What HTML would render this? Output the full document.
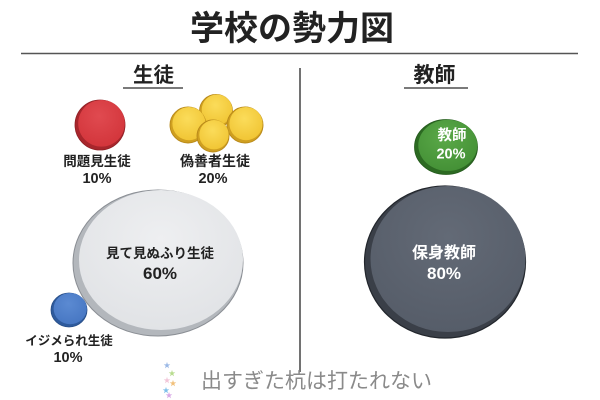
<!DOCTYPE html>
<html lang="ja">
<head>
<meta charset="utf-8">
<style>
  html,body{margin:0;padding:0;background:#ffffff;}
  body{width:600px;height:400px;overflow:hidden;}
  svg{display:block;}
  text{font-family:"Liberation Sans","Noto Sans CJK JP",sans-serif;}
  .b{font-weight:700;}
</style>
</head>
<body>
<svg width="600" height="400" viewBox="0 0 600 400" xmlns="http://www.w3.org/2000/svg">
  <defs>
    <radialGradient id="gRed" cx="45%" cy="35%" r="70%">
      <stop offset="0" stop-color="#e04a50"/>
      <stop offset="1" stop-color="#d2343a"/>
    </radialGradient>
    <radialGradient id="gYel" cx="45%" cy="35%" r="70%">
      <stop offset="0" stop-color="#fbdc5a"/>
      <stop offset="1" stop-color="#f0c432"/>
    </radialGradient>
    <radialGradient id="gGray" cx="50%" cy="35%" r="70%">
      <stop offset="0" stop-color="#eeeff1"/>
      <stop offset="1" stop-color="#e0e2e5"/>
    </radialGradient>
    <radialGradient id="gBlue" cx="45%" cy="35%" r="70%">
      <stop offset="0" stop-color="#5b8ad2"/>
      <stop offset="1" stop-color="#4676c2"/>
    </radialGradient>
    <radialGradient id="gGreen" cx="45%" cy="35%" r="70%">
      <stop offset="0" stop-color="#5aa948"/>
      <stop offset="1" stop-color="#438f35"/>
    </radialGradient>
    <radialGradient id="gDark" cx="50%" cy="35%" r="70%">
      <stop offset="0" stop-color="#636a76"/>
      <stop offset="1" stop-color="#555c68"/>
    </radialGradient>
  </defs>

  <!-- Title -->
  <text x="292" y="40" font-size="34" class="b" fill="#222" text-anchor="middle">学校の勢力図</text>
  <line x1="21" y1="53.5" x2="578" y2="53.5" stroke="#555" stroke-width="1.5"/>

  <!-- Section heads -->
  <text x="153.5" y="82" font-size="20.5" class="b" fill="#222" text-anchor="middle">生徒</text>
  <line x1="123" y1="88" x2="183" y2="88" stroke="#7a7a7a" stroke-width="2"/>
  <text x="434.5" y="82" font-size="21" class="b" fill="#222" text-anchor="middle">教師</text>
  <line x1="404" y1="88" x2="468" y2="88" stroke="#7a7a7a" stroke-width="2"/>

  <!-- Divider -->
  <line x1="300" y1="68" x2="300" y2="372" stroke="#444" stroke-width="1.5"/>

  <!-- Red coin -->
  <circle cx="100" cy="125" r="25" fill="#a8262c" stroke="#8e1f24" stroke-width="0.8"/>
  <circle cx="101.5" cy="123.3" r="23.3" fill="url(#gRed)"/>
  <text x="97" y="166" font-size="13.5" class="b" fill="#222" text-anchor="middle">問題見生徒</text>
  <text x="97" y="183" font-size="14.5" class="b" fill="#222" text-anchor="middle">10%</text>

  <!-- Yellow cluster -->
  <g stroke="#b8891a" stroke-width="0.9">
    <circle cx="216" cy="111" r="16.5" fill="#cf9f20"/>
    <circle cx="217" cy="109.8" r="15.3" fill="url(#gYel)" stroke="none"/>
    <circle cx="188" cy="125" r="18" fill="#cf9f20"/>
    <circle cx="189" cy="123.6" r="16.6" fill="url(#gYel)" stroke="none"/>
    <circle cx="245" cy="125" r="18" fill="#cf9f20"/>
    <circle cx="246" cy="123.6" r="16.6" fill="url(#gYel)" stroke="none"/>
    <circle cx="213" cy="136" r="16" fill="#cf9f20"/>
    <circle cx="214" cy="134.7" r="14.7" fill="url(#gYel)" stroke="none"/>
  </g>
  <text x="215" y="166" font-size="14" class="b" fill="#222" text-anchor="middle">偽善者生徒</text>
  <text x="213" y="183" font-size="14.5" class="b" fill="#222" text-anchor="middle">20%</text>

  <!-- Big gray coin -->
  <ellipse cx="158" cy="263" rx="85" ry="73" fill="#b3b7bc" stroke="#8a8e94" stroke-width="1"/>
  <ellipse cx="161" cy="260" rx="82" ry="70" fill="url(#gGray)"/>
  <text x="160" y="258" font-size="13.5" class="b" fill="#222" text-anchor="middle">見て見ぬふり生徒</text>
  <text x="160" y="279" font-size="17" class="b" fill="#222" text-anchor="middle">60%</text>

  <!-- Blue coin -->
  <ellipse cx="69" cy="310" rx="18" ry="17" fill="#2e5a9c" stroke="#274d86" stroke-width="0.8"/>
  <ellipse cx="70.2" cy="308.6" rx="16.6" ry="15.6" fill="url(#gBlue)"/>
  <text x="69" y="345" font-size="12.5" class="b" fill="#222" text-anchor="middle">イジメられ生徒</text>
  <text x="68" y="362" font-size="14.5" class="b" fill="#222" text-anchor="middle">10%</text>

  <!-- Green coin -->
  <ellipse cx="446" cy="147" rx="31.5" ry="27.5" fill="#2c6a22" stroke="#245a1c" stroke-width="0.8"/>
  <ellipse cx="447.8" cy="145.3" rx="29.5" ry="25.6" fill="url(#gGreen)"/>
  <text x="452" y="140" font-size="14.5" class="b" fill="#fff" text-anchor="middle">教師</text>
  <text x="451" y="158.5" font-size="14.5" class="b" fill="#fff" text-anchor="middle">20%</text>

  <!-- Dark coin -->
  <ellipse cx="445" cy="262" rx="80.5" ry="76" fill="#3a3f48" stroke="#22262c" stroke-width="1.2"/>
  <ellipse cx="448" cy="259" rx="77.5" ry="73" fill="url(#gDark)"/>
  <text x="444" y="258" font-size="16" class="b" fill="#fff" text-anchor="middle">保身教師</text>
  <text x="444" y="279" font-size="17" class="b" fill="#fff" text-anchor="middle">80%</text>

  <!-- Stars -->
  <g font-size="7" text-anchor="middle">
    <text x="167" y="367.5" fill="#9ab8e6">★</text>
    <text x="172" y="375.5" fill="#b7dc8e">★</text>
    <text x="167" y="382.5" fill="#f2c6d8">★</text>
    <text x="173" y="385.5" fill="#f1c07a">★</text>
    <text x="166" y="392.5" fill="#7fc0ea">★</text>
    <text x="169" y="397.5" fill="#d8a8e6">★</text>
  </g>

  <!-- Bottom caption -->
  <text x="316.5" y="388" font-size="21" fill="#8a8a8a" text-anchor="middle">出すぎた杭は打たれない</text>
</svg>
</body>
</html>
